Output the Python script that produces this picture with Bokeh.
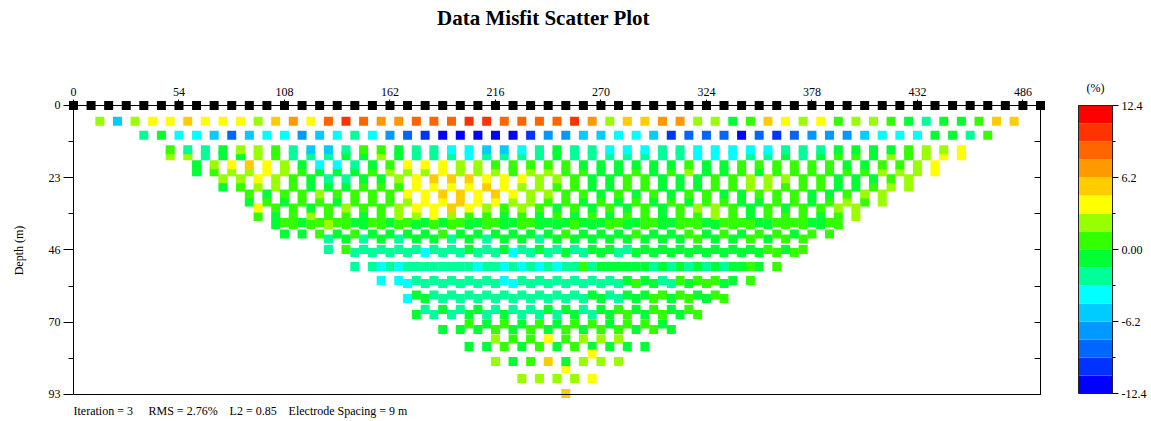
import math
from bokeh.plotting import figure
from bokeh.models import (Range1d, LinearAxis, FixedTicker, LinearColorMapper,
                          ColumnDataSource, Label)
from bokeh.embed import file_html
from bokeh.resources import INLINE
from bokeh.transform import transform

# ---------------- data ----------------
title_text = "Data Misfit Scatter Plot"
electrode_spacing = 9.0
electrode_count = 56
line_length = 495.0
max_depth = 93.0
x_ticks = [0, 54, 108, 162, 216, 270, 324, 378, 432, 486]
depth_ticks = [0, 23.25, 46.5, 69.75, 93]
depth_tick_labels = ["0", "23", "46", "70", "93"]
depth_minor_ticks = [11.625, 34.875, 58.125, 81.375]
cbar_bounds = [-12.4, -10.85, -9.3, -7.75, -6.2, -4.65, -3.1, -1.55, 0.0,
               1.55, 3.1, 4.65, 6.2, 7.75, 9.3, 10.85, 12.4]
cbar_colors = ["#0000FF", "#0033FF", "#0066FF", "#0099FF", "#00CCFF", "#00FFFF",
               "#00FF99", "#00FF33", "#33FF00", "#99FF00", "#FFFF00", "#FFCC00",
               "#FF9900", "#FF6600", "#FF3300", "#FF0000"]
cbar_ticks = [-12.4, -6.2, 0.0, 6.2, 12.4]
cbar_tick_labels = ["-12.4", "-6.2", "0.00", "6.2", "12.4"]
cbar_minor_ticks = [-9.3, -3.1, 3.1, 9.3]
stats_labels = ["Iteration = 3", "RMS = 2.76%", "L2 = 0.85", "Electrode Spacing = 9 m"]

# misfit (%) per data level, read left to right
lvA = [2.3,-5.4,2.3,3.9,3.9,5.4,3.9,3.9,3.9,2.3,5.4,7.0,3.9,8.5,10.1,8.5,7.0,7.0,8.5,8.5,8.5,10.1,10.1,8.5,8.5,8.5,8.5,10.1,7.0,2.3,5.4,5.4,7.0,7.0,2.3,2.3,-0.8,0.8,5.4,3.9,2.3,3.9,0.8,2.3,2.3,0.8,-0.8,-2.3,-0.8,-0.8,0.8,5.4,5.4]
lvB = [-2.3,-0.8,-3.9,-3.9,-5.4,-8.5,-5.4,-3.9,-3.9,-7.0,-5.4,-3.9,-2.3,-3.9,-7.0,-8.5,-10.1,-11.6,-11.6,-11.6,-11.6,-11.6,-10.1,-7.0,-7.0,-5.4,-5.4,-3.9,-3.9,-5.4,-10.1,-8.5,-8.5,-8.5,-11.6,-8.5,-10.1,-8.5,-7.0,-7.0,-7.0,-5.4,-3.9,-3.9,-3.9,-0.8,-0.8,-2.3,0.8]
lvC1 = [0.8,-2.3,-2.3,-0.8,2.3,2.3,0.8,-2.3,-5.4,-5.4,-2.3,0.8,0.8,-0.8,-2.3,-2.3,-3.9,-3.9,-5.4,-5.4,-3.9,-2.3,-0.8,-2.3,-2.3,-3.9,-3.9,-3.9,-2.3,-2.3,-3.9,-3.9,-3.9,-3.9,-3.9,-2.3,-2.3,-2.3,-0.8,-0.8,-0.8,-0.8,0.8,2.3,2.3,3.9]
lvC2 = [2.3,2.3,-2.3,-0.8,-0.8,2.3,0.8,-2.3,-2.3,-2.3,-0.8,-0.8,2.3,-0.8,-2.3,-2.3,-2.3,-3.9,-2.3,-2.3,-2.3,-2.3,-0.8,-2.3,-2.3,-2.3,-2.3,-2.3,-2.3,-2.3,-3.9,-3.9,-3.9,-2.3,-2.3,-0.8,-2.3,-0.8,0.8,0.8,-0.8,2.3,0.8,2.3,3.9,3.9]
lvD1 = [-0.8,2.3,3.9,5.4,3.9,2.3,-0.8,-3.9,-3.9,-2.3,-0.8,0.8,3.9,3.9,3.9,2.3,2.3,0.8,0.8,0.8,0.8,0.8,-0.8,-0.8,-0.8,-0.8,-0.8,-0.8,0.8,-0.8,-0.8,0.8,0.8,0.8,0.8,0.8,0.8,-0.8,-0.8,0.8,0.8,2.3,3.9]
lvD2 = [-0.8,0.8,2.3,2.3,3.9,2.3,0.8,-0.8,-0.8,-0.8,0.8,2.3,2.3,2.3,3.9,2.3,2.3,2.3,0.8,2.3,2.3,0.8,0.8,-0.8,-0.8,0.8,-0.8,0.8,2.3,-0.8,-0.8,0.8,-0.8,0.8,0.8,0.8,0.8,0.8,0.8,2.3,2.3,2.3,3.9]
lvE1 = [2.3,2.3,3.9,2.3,0.8,-0.8,-2.3,-2.3,-0.8,-0.8,2.3,3.9,5.4,5.4,5.4,3.9,3.9,3.9,2.3,2.3,0.8,-0.8,-0.8,0.8,0.8,-0.8,-0.8,-0.8,0.8,0.8,2.3,2.3,2.3,0.8,0.8,-0.8,-0.8,-0.8,0.8,2.3]
lvE2 = [-0.8,0.8,2.3,2.3,0.8,-0.8,-0.8,-0.8,0.8,0.8,0.8,3.9,3.9,3.9,3.9,5.4,3.9,2.3,2.3,0.8,0.8,-0.8,-0.8,0.8,0.8,-0.8,-0.8,-0.8,0.8,0.8,2.3,2.3,0.8,0.8,0.8,-0.8,-0.8,0.8,2.3,2.3]
lvF1 = [0.8,-0.8,0.8,0.8,2.3,0.8,0.8,0.8,0.8,3.9,3.9,5.4,5.4,3.9,5.4,3.9,2.3,2.3,0.8,0.8,-0.8,0.8,-0.8,0.8,-0.8,0.8,0.8,-0.8,-0.8,0.8,0.8,0.8,-0.8,-0.8,0.8,2.3,2.3]
lvF2 = [-0.8,0.8,-0.8,0.8,0.8,-0.8,0.8,0.8,0.8,2.3,3.9,3.9,5.4,3.9,3.9,2.3,2.3,0.8,0.8,-0.8,0.8,-0.8,0.8,-0.8,0.8,-0.8,0.8,0.8,-0.8,-0.8,0.8,0.8,-0.8,0.8,2.3,0.8,2.3]
lvG1 = [3.9,0.8,0.8,-0.8,0.8,2.3,0.8,0.8,2.3,3.9,3.9,5.4,3.9,2.3,0.8,2.3,0.8,-0.8,0.8,-0.8,0.8,-0.8,0.8,-0.8,0.8,2.3,2.3,0.8,-0.8,0.8,-0.8,0.8,0.8,2.3,2.3]
lvG2 = [0.8,-0.8,0.8,2.3,0.8,0.8,-0.8,0.8,2.3,2.3,3.9,2.3,0.8,0.8,-0.8,0.8,-0.8,0.8,-0.8,0.8,-0.8,0.8,0.8,-0.8,0.8,0.8,2.3,0.8,-0.8,0.8,0.8,0.8,-0.8,0.8,2.3]
lvH1 = [-0.8,0.8,0.8,2.3,0.8,-0.8,0.8,0.8,-0.8,0.8,0.8,-0.8,0.8,-0.8,0.8,-0.8,-0.8,0.8,-0.8,0.8,-0.8,0.8,-0.8,0.8,0.8,-0.8,0.8,0.8,-0.8,0.8,0.8,-0.8,0.8]
lvH2 = [0.8,-0.8,0.8,0.8,-0.8,0.8,-0.8,0.8,-0.8,-0.8,0.8,-0.8,0.8,-0.8,0.8,-0.8,-0.8,-0.8,-0.8,0.8,-0.8,0.8,-0.8,0.8,-0.8,0.8,0.8,-0.8,0.8,0.8,-0.8,0.8]
lvI1 = [-0.8,-0.8,0.8,-0.8,0.8,-0.8,-0.8,-0.8,-0.8,0.8,-0.8,-0.8,-0.8,-0.8,-0.8,-0.8,0.8,-0.8,-0.8,-0.8,0.8,-0.8,-0.8,0.8,-0.8,0.8,-0.8,0.8,0.8,-0.8,0.8,0.8]
lvI2 = [-2.3,-0.8,-2.3,-0.8,-2.3,-0.8,-0.8,-2.3,-0.8,-2.3,-0.8,-0.8,-2.3,-0.8,-0.8,-0.8,-0.8,-0.8,-0.8,-0.8,-0.8,0.8,-0.8,-0.8,0.8,-0.8,0.8,0.8]
lvJ1 = [-2.3,0.8,-2.3,-2.3,-2.3,-2.3,-2.3,-2.3,-0.8,-2.3,-0.8,-2.3,-0.8,-2.3,-2.3,-0.8,-0.8,-2.3,-0.8,-0.8,-0.8,-0.8,-0.8,-0.8,-0.8,0.8,-0.8,0.8]
lvJ2 = [-2.3,-2.3,-2.3,-2.3,-3.9,-2.3,-2.3,-2.3,-2.3,-3.9,-2.3,-2.3,-0.8,-2.3,-0.8,-2.3,-0.8,-0.8,-0.8,-0.8,-0.8,-0.8,-0.8,-0.8,0.8,0.8]
lvK1 = [-2.3,-2.3,-2.3,-2.3,-2.3,-2.3,-2.3,-3.9,-2.3,-2.3,-2.3,-2.3,-2.3,0.8,-0.8,-0.8,-0.8,-2.3,-2.3,-2.3,-2.3,-2.3,-0.8,-0.8,0.8]
lvK2 = [-3.9,-3.9,-2.3,-2.3,-2.3,-2.3,-2.3,-3.9,-3.9,-3.9,-3.9,-2.3,-2.3,-0.8,-0.8,-0.8,-0.8,-0.8,-0.8,-0.8,-0.8,0.8]
lvL1 = [-3.9,-3.9,-2.3,-2.3,-2.3,-2.3,-2.3,-3.9,-2.3,-2.3,-2.3,-2.3,-2.3,-2.3,-0.8,-0.8,-2.3,0.8,0.8,0.8,-0.8,0.8]
lvL2 = [-3.9,-2.3,-2.3,-2.3,-2.3,-2.3,-3.9,-2.3,-2.3,-2.3,-2.3,-2.3,-2.3,0.8,-0.8,-2.3,-0.8,0.8,-0.8]
lvM1 = [-0.8,-2.3,-2.3,-2.3,-2.3,-2.3,-2.3,-2.3,-2.3,-2.3,-0.8,-2.3,-0.8,-0.8,0.8,0.8,-0.8,0.8]
lvM2 = [-3.9,-0.8,-2.3,-2.3,-2.3,-2.3,-2.3,-2.3,-2.3,-2.3,-2.3,-0.8,-2.3,-0.8,0.8,-0.8,0.8,-0.8,0.8]
lvN1 = [-2.3,-0.8,-2.3,-0.8,-2.3,-2.3,-2.3,-0.8,-0.8,-2.3,-0.8,0.8,-0.8,0.8,-0.8,0.8]
lvN2 = [-0.8,-2.3,-2.3,-0.8,-2.3,-0.8,-2.3,-2.3,-2.3,-0.8,-2.3,-0.8,0.8,-0.8,0.8,-0.8,0.8]
lvO1 = [0.8,-0.8,0.8,-0.8,0.8,-0.8,0.8,0.8,-0.8,0.8,0.8,-0.8]
lvO2 = [-0.8,-0.8,-0.8,0.8,-0.8,0.8,-0.8,0.8,-0.8,0.8,0.8,-0.8,0.8,-0.8]
lvP1 = [2.3,0.8,0.8,3.9,0.8,2.3,2.3,2.3]
lvP2 = [-0.8,-0.8,0.8,-0.8,0.8,-0.8,0.8,-0.8,-0.8,-0.8,-0.8]
lvP3 = [3.9]
lvQ1 = [2.3,-0.8,0.8,5.4,-0.8,2.3,2.3,2.3]
lvQ2 = [3.9]
lvR1 = [2.3,2.3,2.3,2.3,3.9]
lvS1 = [5.4]

# (pseudo-depth m, first midpoint x m, misfit values), in drawing order
levels = [
    (5.05, 13.5, lvA), (9.56, 36.0, lvB),
    (16.19, 49.5, lvC2), (14.22, 49.5, lvC1),
    (21.34, 63.0, lvD2), (19.05, 63.0, lvD1),
    (26.23, 76.5, lvE2), (23.59, 76.5, lvE1),
    (31.05, 90.0, lvF2), (28.48, 90.0, lvF1),
    (35.72, 94.5, lvG2), (32.98, 94.5, lvG1),
    (37.65, 108.0, lvH2), (38.29, 103.5, lvH1),
    (42.96, 130.5, lvI2), (41.35, 108.0, lvI1),
    (47.30, 144.0, lvJ2), (46.34, 130.5, lvJ1),
    (51.81, 157.5, lvK2), (51.81, 144.0, lvK1),
    (57.28, 171.0, lvL2), (56.32, 157.5, lvL1),
    (62.11, 171.0, lvM2), (60.98, 175.5, lvM1),
    (67.26, 175.5, lvN2), (65.65, 180.0, lvN1),
    (72.08, 189.0, lvO2), (70.31, 202.5, lvO1),
    (77.55, 202.5, lvP2), (75.14, 216.0, lvP1), (79.97, 265.5, lvP3),
    (84.63, 252.0, lvQ2), (82.38, 216.0, lvQ1),
    (87.85, 229.5, lvR1), (92.68, 252.0, lvS1),
]

# ---------------- figure ----------------
FONT = "Liberation Serif"
W, H = 1151, 421
p = figure(width=W, height=H, output_backend="svg", toolbar_location=None,
           x_axis_type=None, y_axis_type=None,
           x_range=Range1d(-37.368, 551.82), y_range=Range1d(101.69, -33.789),
           min_border=0, min_border_left=0, min_border_right=0,
           min_border_top=0, min_border_bottom=0)
p.outline_line_color = None
p.background_fill_color = "white"
p.border_fill_color = "white"
p.extra_x_ranges = {"cbx": Range1d(-31.706, 2.147)}
p.extra_y_ranges = {"cby": Range1d(-14.811, 21.442)}

# data points
xs, ys, vs = [], [], []
for depth, x0, vals in levels:
    for i, v in enumerate(vals):
        xs.append(x0 + electrode_spacing * i)
        ys.append(depth)
        vs.append(v)
src = ColumnDataSource(dict(x=xs, y=ys, v=vs))
mapper = LinearColorMapper(palette=cbar_colors, low=cbar_bounds[0], high=cbar_bounds[-1])
p.scatter("x", "y", source=src, marker="square", size=9,
          fill_color=transform("v", mapper), line_color=None)

# axes (fixed at the data box)
def style(ax):
    ax.major_label_text_font = FONT
    ax.major_label_text_font_size = "12px"
    ax.major_label_text_color = "black"
    ax.axis_line_color = "black"
    ax.major_tick_line_color = "black"
    ax.minor_tick_line_color = "black"
    return ax

top = style(LinearAxis(fixed_location=0, bounds=(0, line_length),
                       ticker=FixedTicker(ticks=x_ticks, minor_ticks=[]),
                       major_tick_out=6, major_tick_in=0, minor_tick_out=0, minor_tick_in=0,
                       major_label_standoff=3))
p.add_layout(top, "above")

left = style(LinearAxis(fixed_location=0, bounds=(0, max_depth),
                        ticker=FixedTicker(ticks=depth_ticks, minor_ticks=depth_minor_ticks),
                        major_label_overrides={t: s for t, s in zip(depth_ticks, depth_tick_labels)},
                        major_tick_out=10, major_tick_in=0, minor_tick_out=5, minor_tick_in=0,
                        major_label_standoff=3))
p.add_layout(left, "left")

right = style(LinearAxis(fixed_location=line_length, bounds=(0, max_depth),
                         ticker=FixedTicker(ticks=depth_ticks, minor_ticks=depth_minor_ticks),
                         major_label_overrides={t: "" for t in depth_ticks},
                         major_tick_out=0, major_tick_in=6, minor_tick_out=0, minor_tick_in=6))
p.add_layout(right, "right")

bottom = style(LinearAxis(fixed_location=max_depth, bounds=(0, line_length),
                          ticker=FixedTicker(ticks=[], minor_ticks=[]),
                          major_tick_out=0, major_tick_in=0, minor_tick_out=0, minor_tick_in=0))
p.add_layout(bottom, "below")

# electrodes
elec_x = [electrode_spacing * i for i in range(electrode_count)]
p.scatter(elec_x, [0.0] * electrode_count, marker="square", size=9,
          fill_color="black", line_color=None)

# colour bar
p.quad(left=0, right=1, bottom=cbar_bounds[:-1], top=cbar_bounds[1:],
       fill_color=cbar_colors, line_color=None,
       x_range_name="cbx", y_range_name="cby")
p.quad(left=0, right=1, bottom=cbar_bounds[0], top=cbar_bounds[-1],
       fill_color=None, line_color="#222222", line_width=1,
       x_range_name="cbx", y_range_name="cby")
cax = style(LinearAxis(x_range_name="cbx", y_range_name="cby", fixed_location=1,
                       bounds=(cbar_bounds[0], cbar_bounds[-1]),
                       ticker=FixedTicker(ticks=cbar_ticks, minor_ticks=cbar_minor_ticks),
                       major_label_overrides={t: s for t, s in zip(cbar_ticks, cbar_tick_labels)},
                       major_tick_out=6, major_tick_in=0, minor_tick_out=3, minor_tick_in=0,
                       major_label_standoff=3))
cax.axis_line_color = None
p.add_layout(cax, "right")

# texts
p.add_layout(Label(x=240.6, y=-28.0, text=title_text, text_font=FONT,
                   text_font_size="21px", text_font_style="bold", text_color="black",
                   text_align="center", text_baseline="middle"))
p.add_layout(Label(x=0.5, y=13.9, x_range_name="cbx", y_range_name="cby", text="(%)",
                   text_font=FONT, text_font_size="12px", text_color="black",
                   text_align="center", text_baseline="middle"))
p.add_layout(Label(x=-28.15, y=46.66, text="Depth (m)", angle=math.pi / 2,
                   text_font=FONT, text_font_size="12px", text_color="black",
                   text_align="center", text_baseline="middle"))
for xpos, s in zip([0.0, 38.4, 79.9, 110.1], stats_labels):
    p.add_layout(Label(x=xpos, y=98.2, text=s, text_font=FONT, text_font_size="12px",
                       text_color="black", text_align="left", text_baseline="middle"))

open("out.html", "w").write(file_html(p, INLINE))
